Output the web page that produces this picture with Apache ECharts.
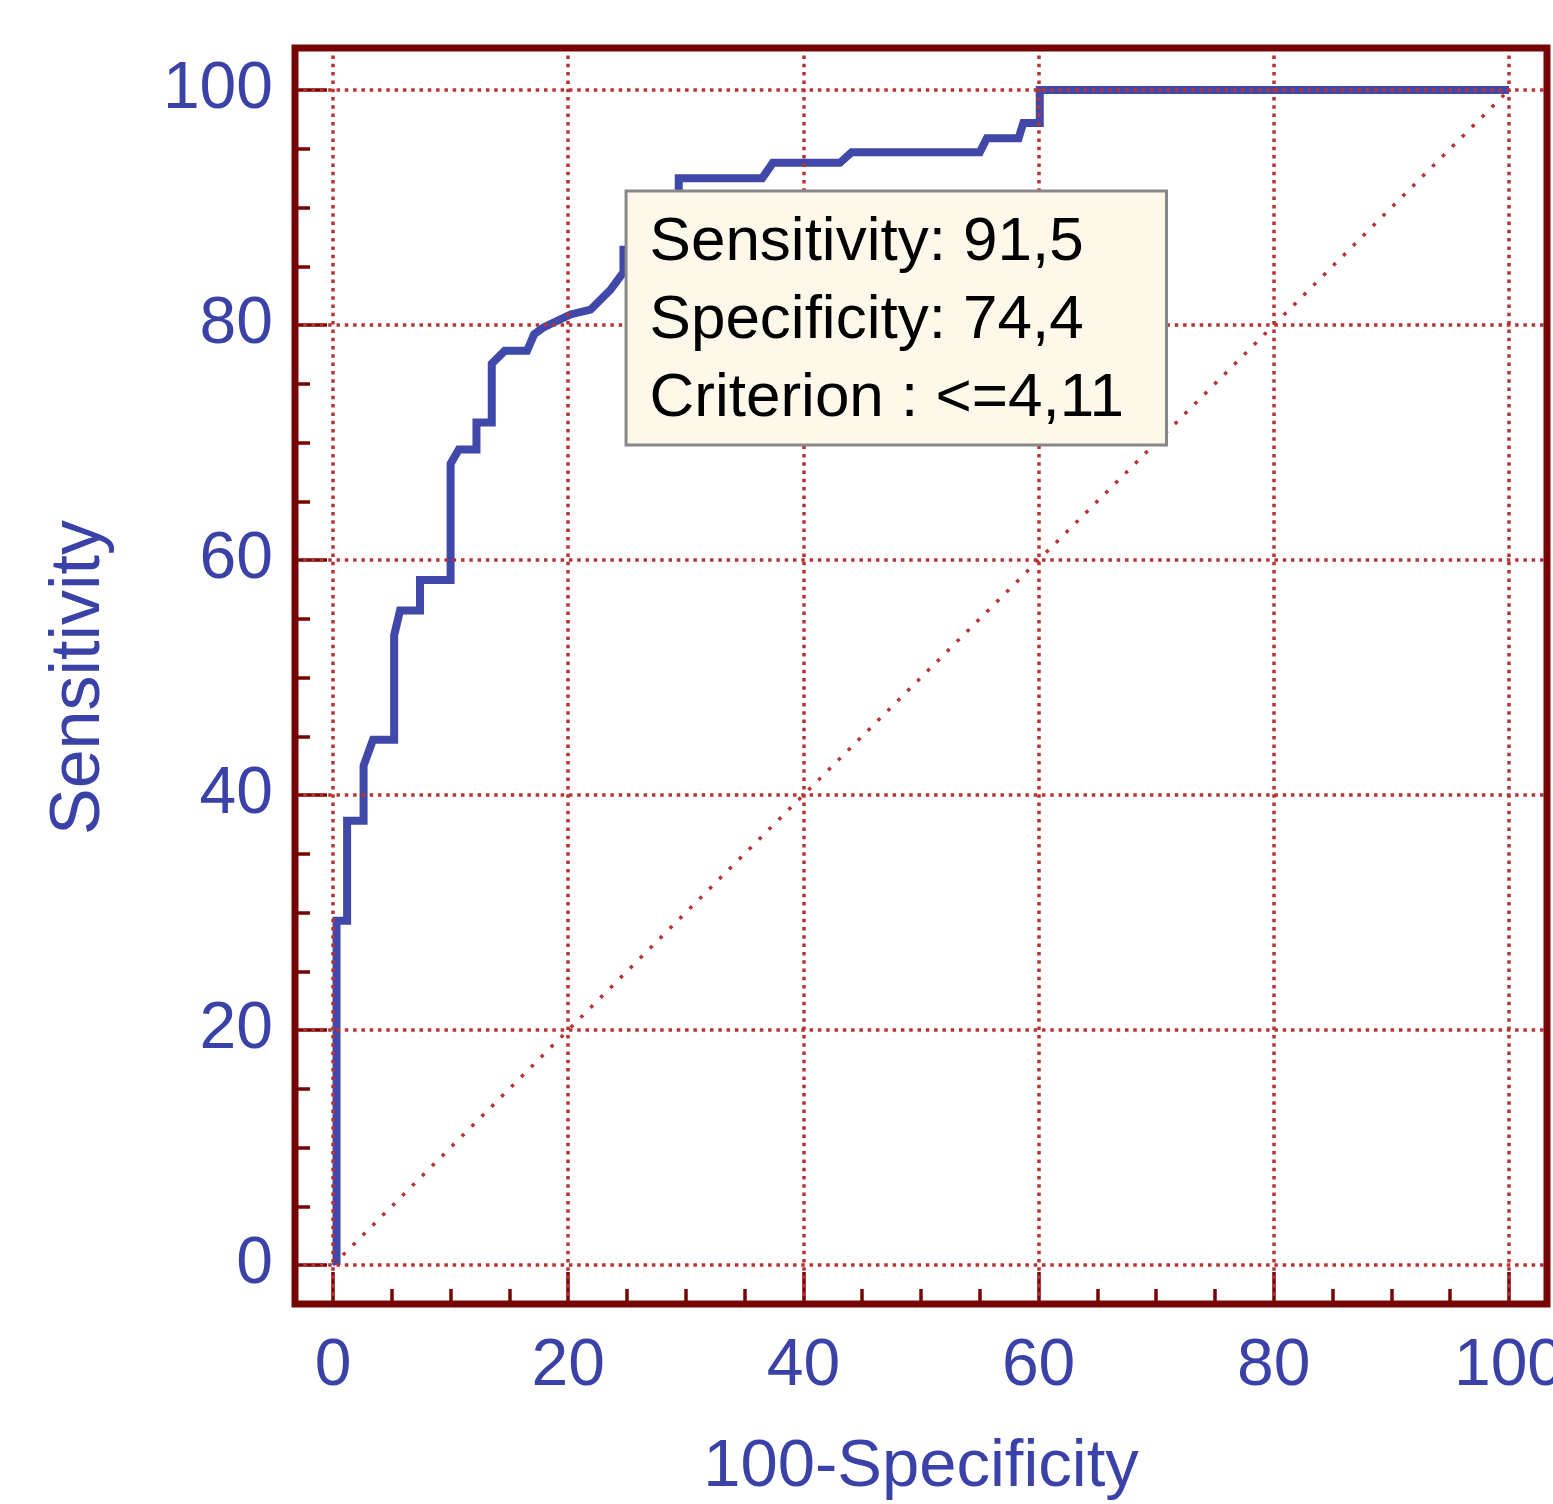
<!DOCTYPE html>
<html>
<head>
<meta charset="utf-8">
<script src="https://cdn.jsdelivr.net/npm/echarts@6.0.0/dist/echarts.min.js"></script>
<title>ROC curve</title>
</head>
<body style="margin:0">
<div id="chart" style="width:1553px;height:1504px"></div>
<script>
// ROC curve: x = 100-Specificity, y = Sensitivity
var rocX = [0.3, 0.3, 1.2, 1.2, 2.6, 2.6, 3.4, 5.2, 5.2, 5.7, 7.4, 7.4, 10.0, 10.0, 10.7, 12.2, 12.2, 13.5, 13.5, 14.6, 16.5, 17.1, 17.9, 20.2, 21.9, 23.6, 24.7, 24.7, 25.6, 25.6, 29.4, 29.4, 36.5, 37.4, 43.1, 44.1, 55.0, 55.6, 58.3, 58.7, 60.1, 60.1, 100];
var rocY = [0, 29.3, 29.3, 37.8, 37.8, 42.5, 44.7, 44.7, 53.6, 55.7, 55.7, 58.3, 58.3, 68.2, 69.4, 69.4, 71.7, 71.7, 76.7, 77.8, 77.8, 79.2, 79.8, 80.9, 81.3, 83.0, 84.5, 86.4, 86.4, 90.5, 90.5, 92.5, 92.5, 93.8, 93.8, 94.7, 94.7, 95.9, 95.9, 97.2, 97.2, 100, 100];
var chanceX = [0, 100];
var chanceY = [0, 100];
var gridValues = [0, 20, 40, 60, 80, 100];
// selected cut-off shown in the box
var cutSens = 91.5, cutSpec = 74.4, cutCriterion = '<=4,11';

var blue = '#3a42a8', frameColor = '#780505', dotColor = '#b83434';
var font = 'Liberation Sans, Arial, sans-serif';

// plot area (0..100) and the outer frame, in pixels
var plotL = 333, plotT = 90, plotW = 1176, plotH = 1175;
var frameL = 295, frameT = 48, frameW = 1252, frameH = 1256;
var ux = plotW / 100, uy = plotH / 100;
var fxMin = (frameL - plotL) / ux, fxMax = (frameL + frameW - plotL) / ux;
var fyMin = -((frameT + frameH) - (plotT + plotH)) / uy, fyMax = 100 + (plotT - frameT) / uy;

function comma(v){ return String(v).replace('.', ','); }

var rocData = rocX.map(function(x, i){ return [x, rocY[i]]; });
var chanceData = chanceX.map(function(x, i){ return [x, chanceY[i]]; });
var gridDots = {color: dotColor, width: 3.5, type: [3.5, 4.8]};
var diagDots = {color: dotColor, width: 3.5, type: [3.5, 10.5]};
var gridMarks = gridValues.map(function(v){ return {xAxis: v}; })
   .concat(gridValues.map(function(v){ return {yAxis: v}; }));

var tickStyle = {color: frameColor, width: 3.5};
function dataAxis(name, gap, margin, nameSize){
   return {
      gridIndex: 1, type: 'value', min: 0, max: 100, interval: 20,
      name: name, nameLocation: 'middle', nameGap: gap,
      nameTextStyle: {color: blue, fontSize: nameSize, fontFamily: font},
      axisLine: {show: false, onZero: false},
      axisTick: {inside: true, length: 32, lineStyle: tickStyle},
      minorTick: {show: true, splitNumber: 4, length: 15, lineStyle: tickStyle},
      axisLabel: {color: blue, fontSize: 66, fontFamily: font, margin: margin},
      splitLine: {show: false}
   };
}
var xData = dataAxis('100-Specificity', 130, 30, 67);
xData.offset = (frameT + frameH) - (plotT + plotH);
var yData = dataAxis('Sensitivity', 180, 22, 70);
yData.offset = plotL - frameL;

var myChart = echarts.init(document.getElementById('chart'));
myChart.setOption({
   animation: false,
   backgroundColor: '#ffffff',
   grid: [
      {left: frameL, top: frameT, width: frameW, height: frameH, show: true, z: 10,
       backgroundColor: 'transparent', borderColor: frameColor, borderWidth: 7, outerBoundsMode: 'none'},
      {left: plotL, top: plotT, width: plotW, height: plotH, outerBoundsMode: 'none'}
   ],
   xAxis: [
      {gridIndex: 0, type: 'value', min: fxMin, max: fxMax, show: false},
      xData
   ],
   yAxis: [
      {gridIndex: 0, type: 'value', min: fyMin, max: fyMax, show: false},
      yData
   ],
   series: [
      {
         type: 'line', data: chanceData, symbol: 'none', silent: true,
         lineStyle: diagDots,
         markLine: {silent: true, symbol: 'none', label: {show: false}, lineStyle: gridDots, data: gridMarks}
      },
      {
         type: 'line', data: rocData, symbol: 'none', silent: true, z: 4,
         lineStyle: {color: '#4048a9', width: 8, join: 'miter'}
      },
      {
         type: 'scatter', data: [[100 - cutSpec, cutSens]], symbolSize: 1, silent: true, z: 20,
         itemStyle: {color: 'transparent', opacity: 1},
         label: {
            show: true, position: [-6, 3], opacity: 1,
            formatter: 'Sensitivity: ' + comma(cutSens) + '\nSpecificity: ' + comma(cutSpec) + '\nCriterion : ' + cutCriterion,
            color: '#000000', fontSize: 62, lineHeight: 78, fontFamily: font,
            backgroundColor: '#fdf8ea', borderColor: '#888888', borderWidth: 3,
            padding: [12, 41, 5, 22]
         }
      }
   ]
});
</script>
</body>
</html>
